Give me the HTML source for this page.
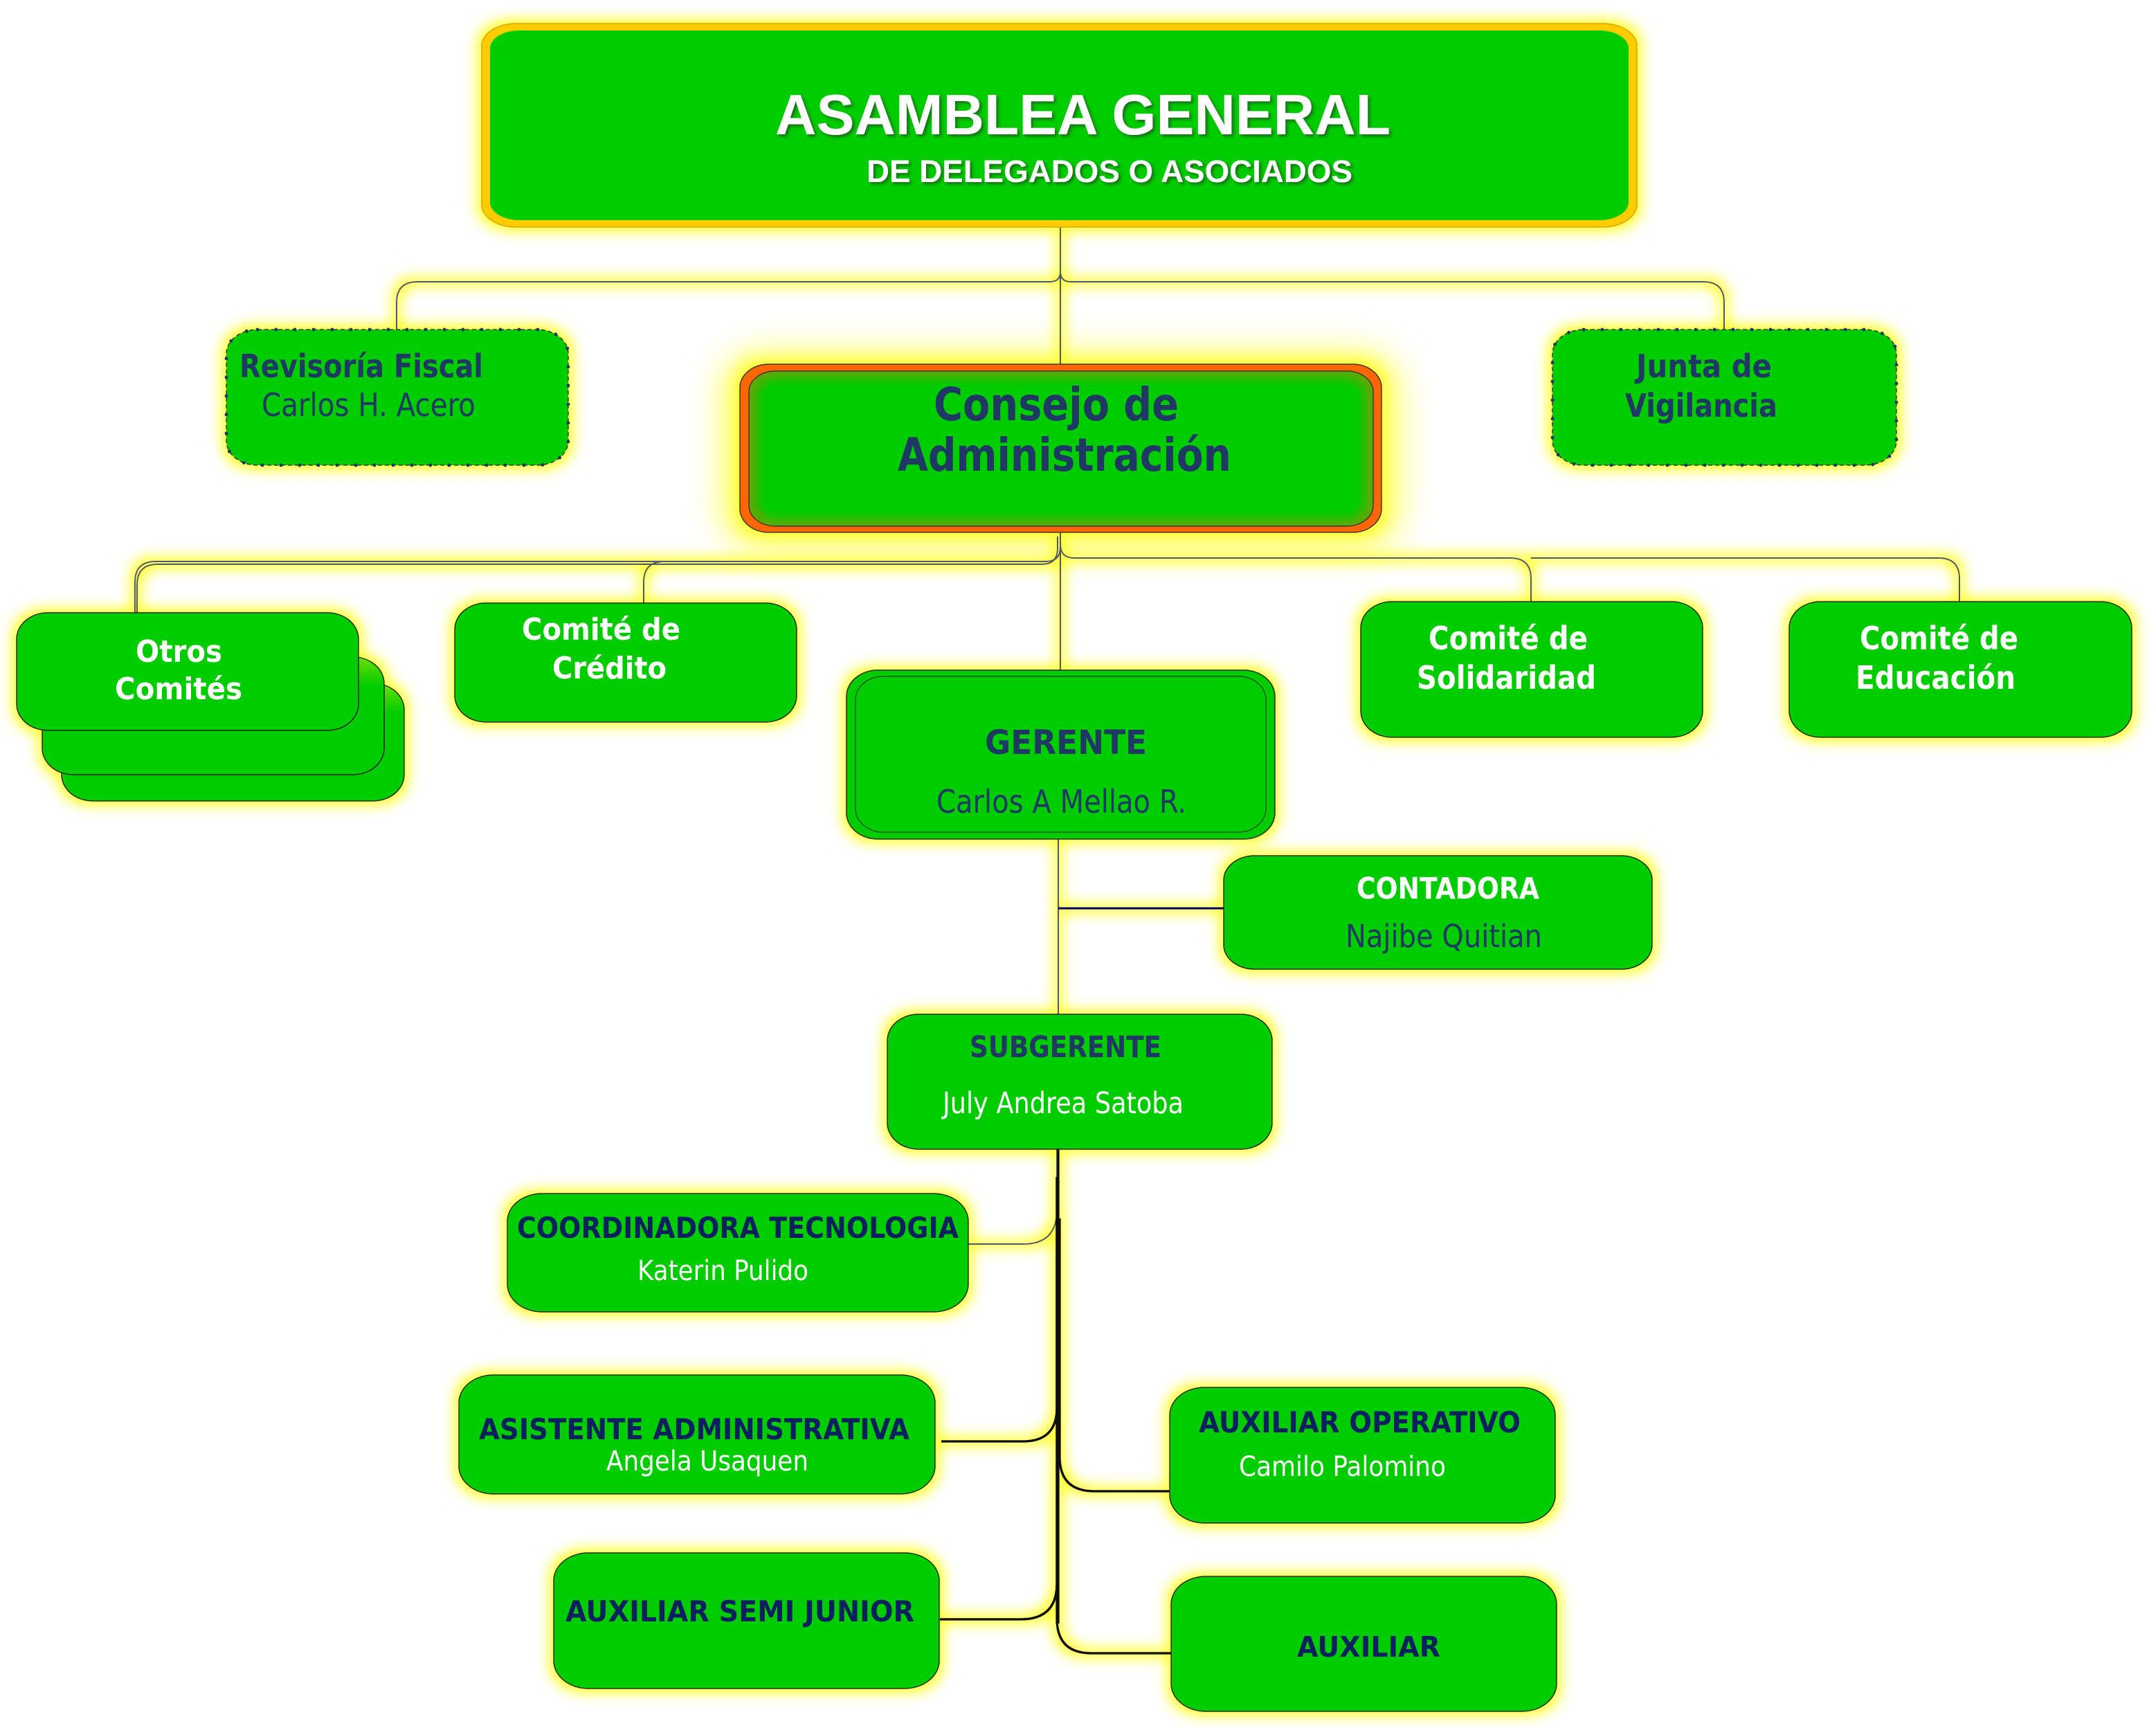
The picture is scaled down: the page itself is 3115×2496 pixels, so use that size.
<!DOCTYPE html>
<html>
<head>
<meta charset="utf-8">
<style>
html,body{margin:0;padding:0;background:#fff;}
svg{display:block;}
.t{font-family:"DejaVu Sans","Liberation Sans",sans-serif;}
.b{font-weight:bold;}
</style>
</head>
<body>
<svg xmlns="http://www.w3.org/2000/svg" width="3115" height="2496" viewBox="0 0 3115 2496">
<defs>
  <filter id="glow" filterUnits="userSpaceOnUse" x="0" y="0" width="3115" height="2496">
    <feMorphology in="SourceAlpha" operator="dilate" radius="6" result="d"/>
    <feGaussianBlur in="d" stdDeviation="9" result="bl"/>
    <feFlood flood-color="#ffff33"/>
    <feComposite in2="bl" operator="in" result="y"/>
    <feMerge><feMergeNode in="y"/><feMergeNode in="SourceGraphic"/></feMerge>
  </filter>
  <filter id="bigblur" x="-30%" y="-50%" width="160%" height="200%">
    <feGaussianBlur stdDeviation="22"/>
  </filter>
  <filter id="innerblur" x="-10%" y="-10%" width="120%" height="120%">
    <feGaussianBlur stdDeviation="7"/>
  </filter>
  <filter id="ds" x="-10%" y="-30%" width="120%" height="160%">
    <feDropShadow dx="3" dy="3" stdDeviation="2" flood-color="#2a2a2a" flood-opacity="0.6"/>
  </filter>
  <clipPath id="cinner"><rect x="1082" y="536" width="902" height="224" rx="38" ry="30"/></clipPath>
  <linearGradient id="stackg" x1="0" y1="0" x2="0" y2="1">
    <stop offset="0" stop-color="#6ae000"/>
    <stop offset="0.25" stop-color="#00cc00"/>
    <stop offset="1" stop-color="#00cc00"/>
  </linearGradient>
</defs>

<rect width="3115" height="2496" fill="#fff"/>

<!-- big glow behind Consejo -->
<rect x="1040" y="505" width="985" height="290" rx="60" fill="#ffff40" opacity="0.75" filter="url(#bigblur)"/>

<g filter="url(#glow)">
  <!-- ===== connectors ===== -->
  <g fill="none" stroke="#505a66" stroke-width="2">
    <path d="M1532 328 V392 Q1532 407 1517 407 H603 Q573 407 573 437 V476"/>
    <path d="M1532 392 Q1532 407 1547 407 H2461 Q2491 407 2491 437 V476"/>
    <path d="M1532 392 V526"/>
    <path d="M1532 769 V968"/>
    <path d="M1532 769 V790 Q1532 811 1511 811 H225 Q195 811 195 841 V885"/>
    <path d="M1528 775 V792 Q1528 815 1505 815 H228 Q198 815 198 845 V885"/>
    <path d="M930 871 V841 Q930 811 960 811"/>
    <path d="M1532 769 V786 Q1532 806 1552 806 H2182 Q2212 806 2212 836 V869"/>
    <path d="M2212 806 H2801 Q2831 806 2831 836 V869"/>
    <path d="M1529 1212 V1465"/>
    <path d="M1399 1797 H1478 Q1527 1797 1527 1748 V1660"/>
  </g>
  <path d="M1529 1312 H1768" stroke="#000066" stroke-width="3" fill="none"/>
  <g fill="none" stroke="#111" stroke-width="3.5">
    <path d="M1529 1660 V2345"/>
    <path d="M1360 2082 H1478 Q1527 2082 1527 2033 V1700"/>
    <path d="M1358 2339 H1475 Q1527 2339 1527 2287 V1700"/>
    <path d="M1531 1760 V2104 Q1531 2154 1581 2154 H1692"/>
    <path d="M1527 1760 V2338 Q1527 2388 1577 2388 H1692"/>
  </g>

  <!-- ===== Asamblea ===== -->
  <rect x="696" y="34" width="1669" height="294" rx="50" ry="32" fill="#ffcc00" stroke="#d9a500" stroke-width="1.5"/>
  <rect x="708" y="44" width="1645" height="274" rx="42" ry="26" fill="#00cc00"/>

  <!-- ===== Revisoria ===== -->
  <rect x="327" y="476" width="494" height="196" rx="45" ry="35" fill="#00cc00" stroke="#333" stroke-width="1.5" stroke-dasharray="6 4"/>
  <rect x="327" y="476" width="494" height="196" rx="45" ry="35" fill="none" stroke="#1f3864" stroke-width="5" stroke-dasharray="0 27" stroke-linecap="round"/>

  <!-- ===== Junta ===== -->
  <rect x="2243" y="476" width="497" height="196" rx="45" ry="35" fill="#00cc00" stroke="#333" stroke-width="1.5" stroke-dasharray="6 4"/>
  <rect x="2243" y="476" width="497" height="196" rx="45" ry="35" fill="none" stroke="#1f3864" stroke-width="5" stroke-dasharray="0 27" stroke-linecap="round"/>

  <!-- ===== Consejo ===== -->
  <rect x="1069" y="526" width="927" height="243" rx="42" ry="34" fill="#ff6600" stroke="#333" stroke-width="1.5"/>
  <rect x="1082" y="536" width="902" height="224" rx="38" ry="30" fill="#5fa800" stroke="#333" stroke-width="1.2"/>
  <g clip-path="url(#cinner)">
    <rect x="1094" y="546" width="878" height="204" rx="30" ry="24" fill="#00cc00" filter="url(#innerblur)"/>
  </g>
  <rect x="1082" y="536" width="902" height="224" rx="38" ry="30" fill="none" stroke="#333" stroke-width="1.2"/>

  <!-- ===== Otros Comites stack ===== -->
  <rect x="89" y="987" width="495" height="170" rx="45" ry="38" fill="url(#stackg)" stroke="#222" stroke-width="1.5"/>
  <rect x="61" y="949" width="494" height="170" rx="45" ry="38" fill="url(#stackg)" stroke="#222" stroke-width="1.5"/>
  <rect x="24" y="885" width="494" height="170" rx="45" ry="38" fill="#00cc00" stroke="#222" stroke-width="1.5"/>

  <!-- ===== Comites ===== -->
  <rect x="657" y="871" width="494" height="172" rx="45" ry="38" fill="#00cc00" stroke="#222" stroke-width="1.5"/>
  <rect x="1966" y="869" width="494" height="196" rx="45" ry="38" fill="#00cc00" stroke="#222" stroke-width="1.5"/>
  <rect x="2585" y="869" width="495" height="196" rx="45" ry="38" fill="#00cc00" stroke="#222" stroke-width="1.5"/>

  <!-- ===== Gerente ===== -->
  <rect x="1223" y="968" width="619" height="244" rx="45" ry="38" fill="#00cc00" stroke="#2a3a2a" stroke-width="1.8"/>
  <rect x="1236" y="977" width="593" height="225" rx="40" ry="34" fill="none" stroke="#1f5a1f" stroke-width="1.5"/>

  <!-- ===== Contadora ===== -->
  <rect x="1768" y="1236" width="619" height="164" rx="45" ry="35" fill="#00cc00" stroke="#222" stroke-width="1.5"/>

  <!-- ===== Subgerente ===== -->
  <rect x="1282" y="1465" width="556" height="195" rx="45" ry="38" fill="#00cc00" stroke="#222" stroke-width="1.5"/>

  <!-- ===== bottom ===== -->
  <rect x="733" y="1724" width="666" height="171" rx="50" ry="40" fill="#00cc00" stroke="#222" stroke-width="1.5"/>
  <rect x="663" y="1986" width="688" height="172" rx="50" ry="40" fill="#00cc00" stroke="#222" stroke-width="1.5"/>
  <rect x="800" y="2243" width="557" height="196" rx="50" ry="40" fill="#00cc00" stroke="#222" stroke-width="1.5"/>
  <rect x="1690" y="2004" width="557" height="196" rx="50" ry="40" fill="#00cc00" stroke="#222" stroke-width="1.5"/>
  <rect x="1692" y="2277" width="557" height="195" rx="50" ry="40" fill="#00cc00" stroke="#222" stroke-width="1.5"/>
</g>

<!-- ===== TEXT ===== -->
<g filter="url(#ds)" fill="#fff" font-family="'Liberation Sans', Arial, sans-serif" font-weight="bold">
  <text x="1120" y="194" font-size="83" textLength="889" lengthAdjust="spacingAndGlyphs">ASAMBLEA GENERAL</text>
  <text x="1252" y="263" font-size="45" textLength="702" lengthAdjust="spacingAndGlyphs">DE DELEGADOS O ASOCIADOS</text>
</g>

<g class="t" fill="#1f3864">
  <text class="b" x="346" y="545" font-size="46" textLength="352" lengthAdjust="spacingAndGlyphs">Revisoría Fiscal</text>
  <text x="378" y="601" font-size="46" textLength="309" lengthAdjust="spacingAndGlyphs">Carlos H. Acero</text>

  <text class="b" x="2364" y="545" font-size="46" textLength="196" lengthAdjust="spacingAndGlyphs">Junta de</text>
  <text class="b" x="2348" y="602" font-size="46" textLength="220" lengthAdjust="spacingAndGlyphs">Vigilancia</text>

  <text class="b" x="1349" y="607" font-size="66" textLength="354" lengthAdjust="spacingAndGlyphs">Consejo de</text>
  <text class="b" x="1297" y="680" font-size="66" textLength="482" lengthAdjust="spacingAndGlyphs">Administración</text>

  <text class="b" x="1423" y="1089" font-size="48" textLength="234" lengthAdjust="spacingAndGlyphs">GERENTE</text>
  <text x="1353" y="1174" font-size="46" textLength="361" lengthAdjust="spacingAndGlyphs">Carlos A Mellao R.</text>

  <text x="1944" y="1368" font-size="45" textLength="284" lengthAdjust="spacingAndGlyphs">Najibe Quitian</text>
  <text class="b" x="1401" y="1527" font-size="43" textLength="277" lengthAdjust="spacingAndGlyphs">SUBGERENTE</text>
</g>

<g class="t" fill="#0b215f">
  <text class="b" x="747" y="1788" font-size="42" textLength="638" lengthAdjust="spacingAndGlyphs">COORDINADORA TECNOLOGIA</text>
  <text class="b" x="692" y="2079" font-size="42" textLength="622" lengthAdjust="spacingAndGlyphs">ASISTENTE ADMINISTRATIVA</text>
  <text class="b" x="817" y="2342" font-size="42" textLength="504" lengthAdjust="spacingAndGlyphs">AUXILIAR SEMI JUNIOR</text>
  <text class="b" x="1732" y="2069" font-size="42" textLength="465" lengthAdjust="spacingAndGlyphs">AUXILIAR OPERATIVO</text>
  <text class="b" x="1874" y="2393" font-size="41" textLength="207" lengthAdjust="spacingAndGlyphs">AUXILIAR</text>
</g>

<g class="t" fill="#fff">
  <text class="b" x="196" y="956" font-size="44" textLength="125" lengthAdjust="spacingAndGlyphs">Otros</text>
  <text class="b" x="166" y="1010" font-size="44" textLength="184" lengthAdjust="spacingAndGlyphs">Comités</text>

  <text class="b" x="754" y="924" font-size="44" textLength="229" lengthAdjust="spacingAndGlyphs">Comité de</text>
  <text class="b" x="798" y="980" font-size="44" textLength="165" lengthAdjust="spacingAndGlyphs">Crédito</text>

  <text class="b" x="2064" y="938" font-size="46" textLength="230" lengthAdjust="spacingAndGlyphs">Comité de</text>
  <text class="b" x="2047" y="995" font-size="46" textLength="259" lengthAdjust="spacingAndGlyphs">Solidaridad</text>

  <text class="b" x="2687" y="938" font-size="46" textLength="229" lengthAdjust="spacingAndGlyphs">Comité de</text>
  <text class="b" x="2681" y="995" font-size="46" textLength="231" lengthAdjust="spacingAndGlyphs">Educación</text>

  <text class="b" x="1960" y="1298" font-size="43" textLength="264" lengthAdjust="spacingAndGlyphs">CONTADORA</text>
  <text x="1362" y="1608" font-size="43" textLength="348" lengthAdjust="spacingAndGlyphs">July Andrea Satoba</text>

  <text x="921" y="1849" font-size="40" textLength="247" lengthAdjust="spacingAndGlyphs">Katerin Pulido</text>
  <text x="876" y="2124" font-size="40" textLength="292" lengthAdjust="spacingAndGlyphs">Angela Usaquen</text>
  <text x="1790" y="2132" font-size="40" textLength="299" lengthAdjust="spacingAndGlyphs">Camilo Palomino</text>
</g>
</svg>
</body>
</html>
